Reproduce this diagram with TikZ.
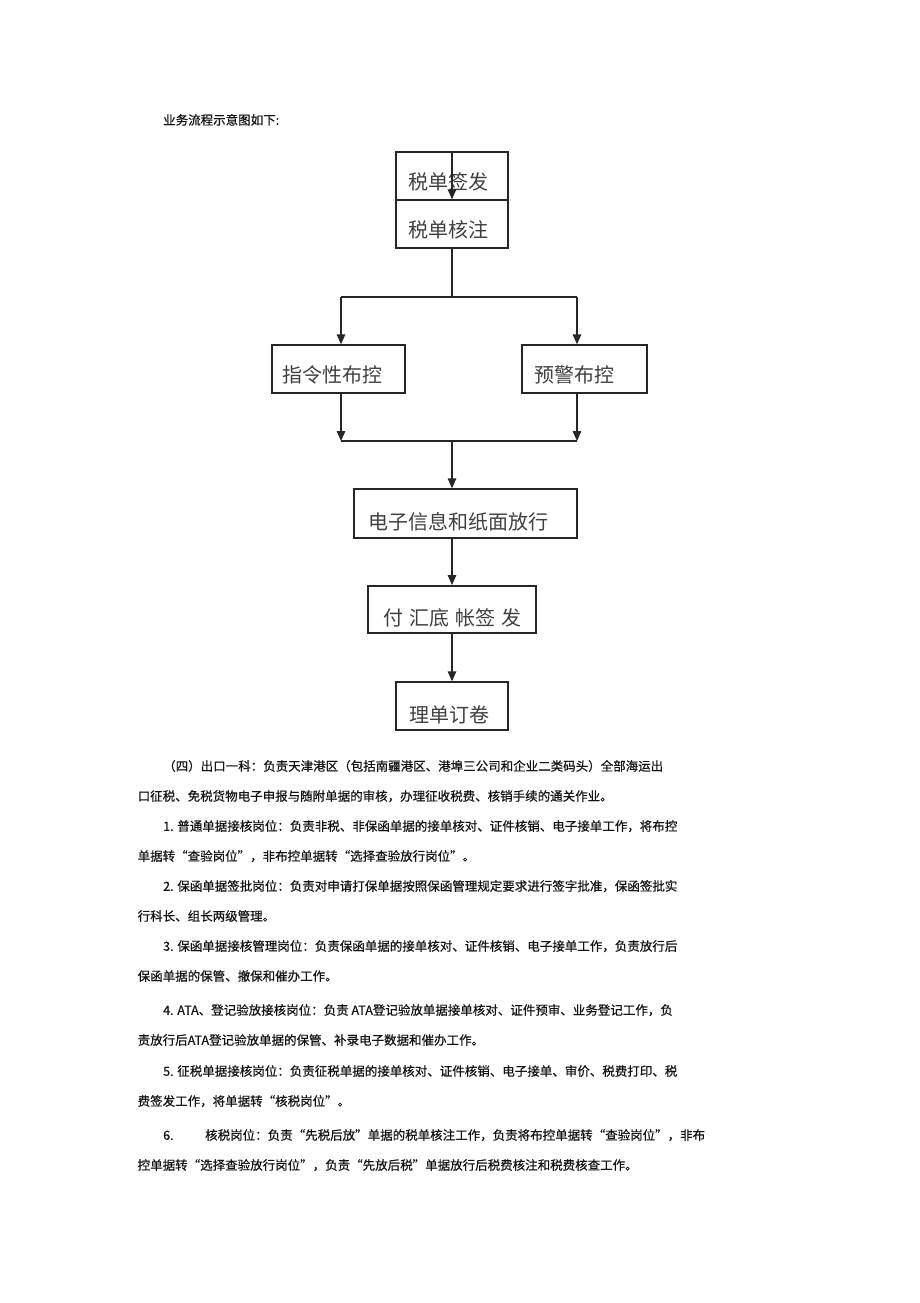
\documentclass[tikz,border=0pt]{standalone}
\usepackage{fontspec}
\setmainfont{Noto Sans CJK SC}
\newfontfamily\bodyfont{Noto Sans CJK SC}[FakeBold=0.5]
\usetikzlibrary{arrows.meta}
\begin{document}
\begin{tikzpicture}[x=1pt,y=-1pt,
  ln/.style={line width=1.4pt, draw=black!85},
  arr/.style={ln, -{Triangle[length=10pt,width=8.5pt]}},
  box/.style={draw=black!85, line width=1.4pt, inner sep=0pt},
  boxtxt/.style={anchor=base, inner sep=0pt, text=black!75, font=\fontsize{20}{24}\selectfont},
  body/.style={anchor=base west, inner sep=0pt, text=black!92, font=\bodyfont\fontsize{12.5}{15}\selectfont},
]
\path[use as bounding box, fill=white] (0,0) rectangle (920,1303);

% title
\node[body] (title) at (163,124.7) {业务流程示意图如下:};

% boxes
\node[box, minimum width=112pt, minimum height=48pt] (b1) at (452,176) {};
\node[box, minimum width=112pt, minimum height=48pt] (b2) at (452,224) {};
\node[box, minimum width=133pt, minimum height=48pt] (b3) at (338.5,369) {};
\node[box, minimum width=125pt, minimum height=48pt] (b4) at (584.5,369) {};
\node[box, minimum width=223pt, minimum height=49pt] (b5) at (465.5,513.5) {};
\node[box, line width=2pt, minimum width=168pt, minimum height=47pt] (b6) at (452,609.5) {};
\node[box, minimum width=112pt, minimum height=48pt] (b7) at (452,706) {};

% box texts
\node[boxtxt] (t1) at (448,189.6) {税单签发};
\node[boxtxt] (t2) at (448,237.6) {税单核注};
\node[boxtxt] (t3) at (332.5,382.6) {指令性布控};
\node[boxtxt] (t4) at (574,382.6) {预警布控};
\node[boxtxt] (t5) at (458,529.6) {电子信息和纸面放行};
\node[boxtxt] (t6) at (452,625.6) {付\hspace{6pt}汇底\hspace{6pt}帐签\hspace{6pt}发};
\node[boxtxt] (t7) at (449,722.6) {理单订卷};

% junction coordinates
\coordinate (jC) at (452,297);
\coordinate (jL) at (341,297);
\coordinate (jR) at (577,297);
\coordinate (kL) at (341,441);
\coordinate (kR) at (577,441);
\coordinate (kC) at (452,441);

% connectors
\draw[arr] (b1.north) -- (b2.north);
\draw[ln] (b2.south) -- (jC);
\draw[ln] (jL) -- (jR);
\draw[arr] (jL) -- (jL |- b3.north);
\draw[arr] (jR) -- (jR |- b4.north);
\draw[arr] (kL |- b3.south) -- (kL);
\draw[arr] (kR |- b4.south) -- (kR);
\draw[ln] (kL) -- (kR);
\draw[arr] (kC) -- (kC |- b5.north);
\draw[arr] (b6.north |- b5.south) -- (b6.north);
\draw[arr] (b7.north |- b6.south) -- (b7.north);

% body text
\node[body] (l1) at (163,770.75) {（四）出口一科：负责天津港区（包括南疆港区、港埠三公司和企业二类码头）全部海运出};
\node[body] (l2) at (137.5,800.75) {口征税、免税货物电子申报与随附单据的审核，办理征收税费、核销手续的通关作业。};
\node[body] (l3) at (163,830.75) {1. 普通单据接核岗位：负责非税、非保函单据的接单核对、证件核销、电子接单工作，将布控};
\node[body] (l4) at (137.5,860.75) {单据转“查验岗位”，非布控单据转“选择查验放行岗位”。};
\node[body] (l5) at (163,890.75) {2. 保函单据签批岗位：负责对申请打保单据按照保函管理规定要求进行签字批准，保函签批实};
\node[body] (l6) at (137.5,920.75) {行科长、组长两级管理。};
\node[body] (l7) at (163,950.75) {3. 保函单据接核管理岗位：负责保函单据的接单核对、证件核销、电子接单工作，负责放行后};
\node[body] (l8) at (137.5,980.75) {保函单据的保管、撤保和催办工作。};
\node[body] (l9) at (163,1014.75) {4. ATA、登记验放接核岗位：负责 ATA登记验放单据接单核对、证件预审、业务登记工作，负};
\node[body] (l10) at (137.5,1044.75) {责放行后ATA登记验放单据的保管、补录电子数据和催办工作。};
\node[body] (l11) at (163,1075.75) {5. 征税单据接核岗位：负责征税单据的接单核对、证件核销、电子接单、审价、税费打印、税};
\node[body] (l12) at (137.5,1105.75) {费签发工作，将单据转“核税岗位”。};
\node[body] (l13a) at (163,1139.75) {6.};
\node[body] (l13b) at (205,1139.75) {核税岗位：负责“先税后放”单据的税单核注工作，负责将布控单据转“查验岗位”，非布};
\node[body] (l14) at (137.5,1169.75) {控单据转“选择查验放行岗位”，负责“先放后税”单据放行后税费核注和税费核查工作。};
\end{tikzpicture}
\end{document}
